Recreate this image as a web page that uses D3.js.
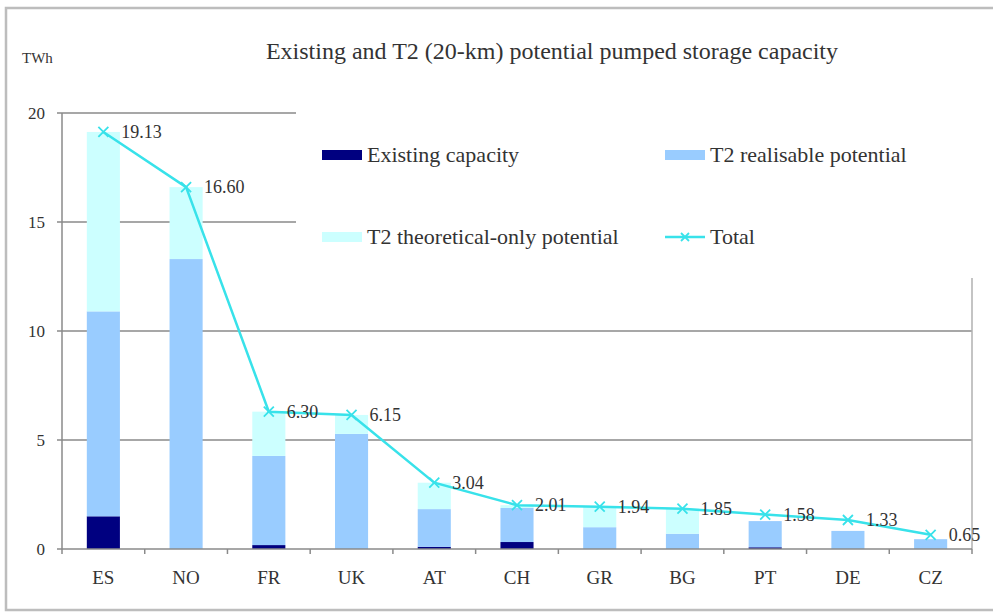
<!DOCTYPE html>
<html lang="en">
<head>
  <meta charset="UTF-8">
  <title>Existing and T2 potential pumped storage capacity</title>
  <script src="https://d3js.org/d3.v7.min.js"></script>
  <style>
    body { margin: 0; background: #fff; }
    svg text { font-family: "Liberation Serif", "Times New Roman", "DejaVu Serif", serif; fill: #333; }
  </style>
</head>
<body>
<div id="chart"></div>
<script>
const countries = ["ES", "NO", "FR", "UK", "AT", "CH", "GR", "BG", "PT", "DE", "CZ"];
// stacked segments, TWh
const existing    = [1.50, 0.00, 0.18, 0.00, 0.10, 0.32, 0.00, 0.00, 0.08, 0.00, 0.00];
const realisable  = [9.40, 13.30, 4.09, 5.28, 1.73, 1.56, 1.00, 0.70, 1.20, 0.83, 0.45];
const theoretical = [8.23, 3.30, 2.03, 0.87, 1.21, 0.13, 0.94, 1.15, 0.00, 0.00, 0.00];
const totals      = [19.13, 16.60, 6.30, 6.15, 3.04, 2.01, 1.94, 1.85, 1.58, 1.33, 0.65];
const yTicks = [0, 5, 10, 15, 20];

const width = 993, height = 614;
const colors = { existing: "#000080", realisable: "#99ccff", theoretical: "#ccffff", total: "#38e2ea" };

const svg = d3.select("#chart").append("svg")
  .attr("width", width)
  .attr("height", height)
  .attr("font-family", "Liberation Serif, serif");

// outer frame
svg.append("rect")
  .attr("x", 6).attr("y", 8)
  .attr("width", 1000).attr("height", 602)
  .attr("fill", "none")
  .attr("stroke", "#bdbdbd")
  .attr("stroke-width", 2.5);

const plot = { left: 62, right: 972, top: 113, bottom: 549 };

const x = d3.scaleBand()
  .domain(countries)
  .range([plot.left, plot.right])
  .paddingInner(0.6)
  .paddingOuter(0.3);

const y = d3.scaleLinear()
  .domain([0, 20])
  .range([plot.bottom, plot.top]);

// gridlines
svg.append("g")
  .selectAll("line")
  .data(yTicks.filter(d => d > 0))
  .join("line")
  .attr("x1", plot.left).attr("x2", plot.right)
  .attr("y1", d => y(d)).attr("y2", d => y(d))
  .attr("stroke", "#8a8a8a")
  .attr("stroke-width", 1.5);

// right plot border
svg.append("line")
  .attr("x1", plot.right).attr("x2", plot.right)
  .attr("y1", plot.top).attr("y2", plot.bottom)
  .attr("stroke", "#b0b0b0")
  .attr("stroke-width", 1.5);

// stacked bars
const rows = countries.map((c, i) => ({
  country: c, existing: existing[i], realisable: realisable[i], theoretical: theoretical[i]
}));
const keys = ["existing", "realisable", "theoretical"];
const stack = d3.stack().keys(keys)(rows);

svg.append("g")
  .selectAll("g")
  .data(stack)
  .join("g")
  .attr("fill", s => colors[s.key])
  .selectAll("rect")
  .data(s => s)
  .join("rect")
  .attr("x", d => x(d.data.country))
  .attr("width", x.bandwidth())
  .attr("y", d => y(d[1]))
  .attr("height", d => y(d[0]) - y(d[1]));

// legend box (white, covers the top right of the plot area)
svg.append("rect")
  .attr("x", 296).attr("y", 96)
  .attr("width", 690).attr("height", 182)
  .attr("fill", "#fff");

// axes
const xAxis = svg.append("g")
  .attr("transform", `translate(0,${plot.bottom})`);
xAxis.append("line")
  .attr("x1", plot.left).attr("x2", plot.right)
  .attr("stroke", "#8a8a8a").attr("stroke-width", 1.5);
xAxis.selectAll(".tick")
  .data(d3.range(countries.length + 1))
  .join("line")
  .attr("x1", i => plot.left + i * x.step())
  .attr("x2", i => plot.left + i * x.step())
  .attr("y1", 0).attr("y2", 5)
  .attr("stroke", "#8a8a8a").attr("stroke-width", 1.5);
xAxis.selectAll("text")
  .data(countries)
  .join("text")
  .attr("x", d => x(d) + x.bandwidth() / 2)
  .attr("y", 35)
  .attr("text-anchor", "middle")
  .style("font-size", "19px")
  .text(d => d);

const yAxis = svg.append("g");
yAxis.append("line")
  .attr("x1", plot.left).attr("x2", plot.left)
  .attr("y1", plot.top).attr("y2", plot.bottom)
  .attr("stroke", "#8a8a8a").attr("stroke-width", 1.5);
yAxis.selectAll("line.tick")
  .data(yTicks)
  .join("line")
  .attr("class", "tick")
  .attr("x1", plot.left - 5).attr("x2", plot.left)
  .attr("y1", d => y(d)).attr("y2", d => y(d))
  .attr("stroke", "#8a8a8a").attr("stroke-width", 1.5);
yAxis.selectAll("text")
  .data(yTicks)
  .join("text")
  .attr("x", plot.left - 17)
  .attr("y", d => y(d) + 6)
  .attr("text-anchor", "end")
  .style("font-size", "17px")
  .text(d => d);

// total line with x markers
const line = d3.line()
  .x((d, i) => x(countries[i]) + x.bandwidth() / 2)
  .y(d => y(d));

svg.append("path")
  .datum(totals)
  .attr("d", line)
  .attr("fill", "none")
  .attr("stroke", colors.total)
  .attr("stroke-width", 2.5);

const marker = (g, cx, cy, r) => {
  g.append("path")
    .attr("d", `M${cx - r},${cy - r}L${cx + r},${cy + r}M${cx - r},${cy + r}L${cx + r},${cy - r}`)
    .attr("stroke", colors.total)
    .attr("stroke-width", 1.8)
    .attr("fill", "none");
};

const pts = svg.append("g");
totals.forEach((v, i) => {
  const cx = x(countries[i]) + x.bandwidth() / 2;
  marker(pts, cx, y(v), 5);
  pts.append("text")
    .attr("x", cx + 18)
    .attr("y", y(v) + 6)
    .style("font-size", "18px")
    .text(v.toFixed(2));
});

// titles
svg.append("text")
  .attr("x", 552).attr("y", 59)
  .attr("text-anchor", "middle")
  .style("font-size", "24px")
  .text("Existing and T2 (20-km) potential pumped storage capacity");

svg.append("text")
  .attr("x", 22).attr("y", 63)
  .style("font-size", "15px")
  .text("TWh");

// legend
const legendItems = [
  { label: "Existing capacity", key: "existing", x: 322, y: 155, type: "box" },
  { label: "T2 realisable potential", key: "realisable", x: 665, y: 155, type: "box" },
  { label: "T2 theoretical-only potential", key: "theoretical", x: 322, y: 237, type: "box" },
  { label: "Total", key: "total", x: 665, y: 237, type: "line" }
];
const legend = svg.append("g");
legendItems.forEach(it => {
  if (it.type === "box") {
    legend.append("rect")
      .attr("x", it.x).attr("y", it.y - 5)
      .attr("width", 40).attr("height", 10)
      .attr("fill", colors[it.key]);
  } else {
    legend.append("line")
      .attr("x1", it.x).attr("x2", it.x + 40)
      .attr("y1", it.y).attr("y2", it.y)
      .attr("stroke", colors.total).attr("stroke-width", 2.5);
    marker(legend, it.x + 20, it.y, 4);
  }
  legend.append("text")
    .attr("x", it.x + 45)
    .attr("y", it.y + 7)
    .style("font-size", "22px")
    .text(it.label);
});
</script>
</body>
</html>
